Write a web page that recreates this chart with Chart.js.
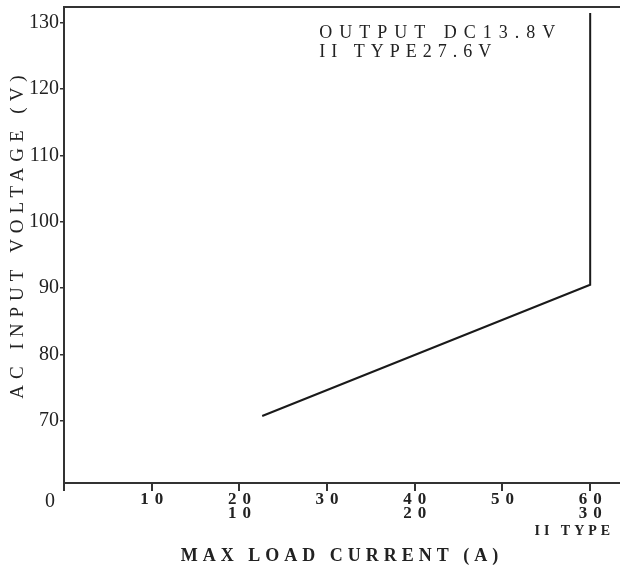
<!DOCTYPE html>
<html>
<head>
<meta charset="utf-8">
<script src="https://cdn.jsdelivr.net/npm/chart.js@4.4.1/dist/chart.umd.min.js"></script>
<style>
  html, body { margin: 0; padding: 0; background: #fff; }
  #wrap { width: 620px; height: 570px; position: relative; }
</style>
</head>
<body>
<div id="wrap"><canvas id="graphCanvas"></canvas></div>
<script>
// valores
const correnteA = [22.6, 60, 60];
const tensaoV = [70.7, 90.5, 131.5];

const yTicks = [70, 80, 90, 100, 110, 120, 130];
const xTicks = [0, 10, 20, 30, 40, 50, 60];
const xLinha1 = ['0', '10', '20', '30', '40', '50', '60'];
const xLinha2 = ['', '', '10', '', '20', '', '30'];
const xLinha3 = ['', '', '', '', '', '', 'II TYPE'];

const notaTexto = ['OUTPUT DC13.8V', 'II TYPE27.6V'];
const notaX = 29.1;
const notaY = [128.5, 125.5];

const corTexto = '#222';
const corLinha = '#333';

// titulos dos eixos com espaçamento entre letras
const titulosEspacados = {
  id: 'titulosEspacados',
  beforeDraw(chart) {
    [['x', '5px', 0], ['y', '6px', -11]].forEach(([id, esp, desloc]) => {
      const s = chart.scales[id];
      if (s._espacado) return;
      const orig = s.drawTitle;
      s.drawTitle = function () {
        this.ctx.save();
        this.ctx.letterSpacing = esp;
        this.ctx.translate(0, desloc);
        orig.call(this);
        this.ctx.restore();
      };
      s._espacado = true;
    });
  }
};

// rótulos do eixo x em três linhas
const rotulosX = {
  id: 'rotulosX',
  afterDraw(chart) {
    const { ctx, scales: { x } } = chart;
    const base = x.top;
    ctx.save();
    ctx.fillStyle = corTexto;
    ctx.textBaseline = 'middle';
    xTicks.forEach((v, i) => {
      const px = x.getPixelForValue(v);
      if (v === 0) {
        ctx.letterSpacing = '0px';
        ctx.textAlign = 'center';
        ctx.font = '20px "Liberation Serif"';
        ctx.fillText(xLinha1[i], px - 14, base + 19);
        return;
      }
      ctx.font = 'bold 17px "Liberation Serif"';
      ctx.letterSpacing = '6px';
      ctx.textAlign = 'center';
      ctx.fillText(xLinha1[i], px + 3, base + 17);
      if (xLinha2[i]) ctx.fillText(xLinha2[i], px + 3, base + 31);
      if (xLinha3[i]) {
        ctx.font = 'bold 14px "Liberation Serif"';
        ctx.letterSpacing = '4px';
        ctx.textAlign = 'right';
        ctx.fillText(xLinha3[i], px + 24, base + 48);
      }
    });
    ctx.restore();
  }
};

// texto de saída dentro do gráfico
const nota = {
  id: 'nota',
  afterDraw(chart) {
    const { ctx, scales: { x, y } } = chart;
    ctx.save();
    ctx.fillStyle = corTexto;
    ctx.textBaseline = 'middle';
    ctx.textAlign = 'left';
    notaTexto.forEach((t, i) => {
      ctx.letterSpacing = i === 0 ? '7px' : '6px';
      ctx.font = (i === 0 ? '' : '500 ') + '18px "Liberation Serif"';
      ctx.fillText(t, x.getPixelForValue(notaX), y.getPixelForValue(notaY[i]));
    });
    ctx.restore();
  }
};

const ctx = document.getElementById('graphCanvas').getContext('2d');

new Chart(ctx, {
  type: 'scatter',
  data: {
    datasets: [{
      data: correnteA.map((c, i) => ({ x: c, y: tensaoV[i] })),
      showLine: true,
      borderColor: '#1a1a1a',
      borderWidth: 2,
      pointRadius: 0,
      tension: 0
    }]
  },
  options: {
    responsive: true,
    maintainAspectRatio: false,
    animation: false,
    layout: { padding: 0 },
    plugins: {
      legend: { display: false },
      tooltip: { enabled: false }
    },
    scales: {
      x: {
        type: 'linear',
        position: 'bottom',
        min: 0,
        max: 63.4,
        afterBuildTicks: (s) => { s.ticks = xTicks.map(v => ({ value: v })); },
        afterFit: (s) => { s.height = 87; s.paddingLeft = 0; s.paddingRight = 0; },
        ticks: { display: false },
        grid: {
          drawOnChartArea: false,
          drawTicks: true,
          tickLength: 8,
          color: corLinha,
          lineWidth: 2
        },
        border: { display: true, color: corLinha, width: 2 },
        title: {
          display: true,
          text: 'MAX LOAD CURRENT (A)',
          color: corTexto,
          font: { family: 'Liberation Serif', size: 18, weight: 'bold' },
          padding: { top: 0, bottom: 3 }
        }
      },
      xTopo: {
        type: 'linear',
        position: 'top',
        min: 0,
        max: 63.4,
        afterFit: (s) => { s.height = 7; s.paddingLeft = 0; s.paddingRight = 0; },
        ticks: { display: false },
        grid: { display: false },
        border: { display: true, color: corLinha, width: 2 }
      },
      y: {
        min: 60.6,
        max: 132.4,
        afterBuildTicks: (s) => { s.ticks = yTicks.map(v => ({ value: v })); },
        afterFit: (s) => { s.width = 64; s.paddingTop = 0; s.paddingBottom = 0; },
        ticks: {
          color: corTexto,
          padding: 1,
          font: { family: 'Liberation Serif', size: 20 }
        },
        grid: {
          drawOnChartArea: false,
          drawTicks: true,
          tickLength: 4,
          color: corLinha,
          lineWidth: 1.5
        },
        border: { display: true, color: corLinha, width: 2 },
        title: {
          display: true,
          text: 'AC INPUT VOLTAGE (V)',
          color: corTexto,
          font: { family: 'Liberation Serif', size: 19 },
          padding: { top: 7, bottom: 0 }
        }
      }
    }
  },
  plugins: [titulosEspacados, rotulosX, nota]
});
</script>
</body>
</html>
